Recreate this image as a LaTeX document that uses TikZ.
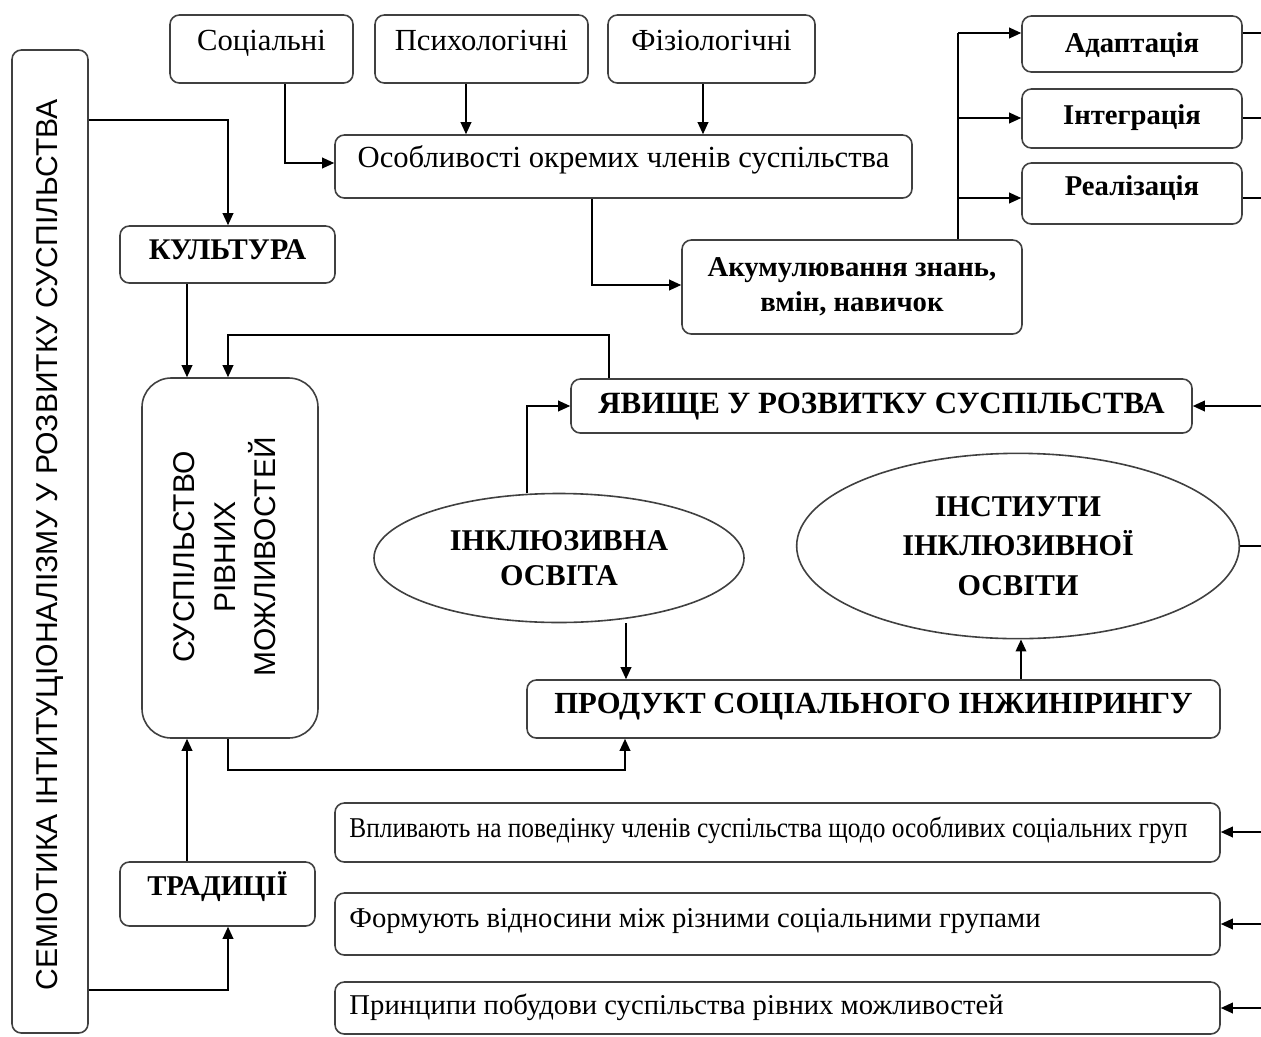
\documentclass[tikz,border=0pt]{standalone}
\usepackage{fontspec}
\usepackage{graphicx}
\setmainfont{Liberation Serif}
\setsansfont{Liberation Sans}
\usetikzlibrary{shapes.geometric,arrows.meta,backgrounds}
% box from (x1,y1) to (x2,y2) in pixels, with its text node shifted by dy
\newcommand{\mybox}[8]{%
  \pgfmathsetmacro\bw{(#5-#3)*0.75}\pgfmathsetmacro\bh{(#6-#4)*0.75}%
  \node[rbox, minimum width=\bw pt, minimum height=\bh pt] (#2) at ({(#3+#5)/2},{(#4+#6)/2}) {};
  \node[txt, #1, yshift=#7] (#2t) at (#2.center) {#8};}
\begin{document}
\begin{tikzpicture}[x=0.75pt,y=-0.75pt,
  rbox/.style={draw=black!75, line width=1.2pt, rounded corners=7pt, fill=white, inner sep=0pt},
  txt/.style={inner sep=0pt, align=center},
  one/.style={text height=15.5pt, text depth=5pt},
  reg/.style={one, font=\fontsize{23pt}{27pt}\selectfont},
  bld/.style={one, font=\fontsize{22.5pt}{27pt}\selectfont\bfseries},
  bsm/.style={one, font=\fontsize{21.5pt}{26pt}\selectfont\bfseries},
  small/.style={one, font=\fontsize{21.5pt}{25pt}\selectfont},
  ell/.style={ellipse, draw=black!75, line width=1.2pt, fill=white, inner sep=0pt, align=center},
  vtext/.style={rotate=90, inner sep=0pt, align=center},
  arr/.style={draw=black, line width=1.1pt, -{Triangle[length=9pt,width=8pt]}},
  ln/.style={draw=black, line width=1.1pt},
]
\useasboundingbox (0,0) rectangle (1261,1036);

% left tall box
\node[rbox, minimum width=57pt, minimum height=737.25pt] (sem) at (50,541.5) {};
\node[vtext, font=\sffamily\fontsize{22.6pt}{27pt}\selectfont] (semt) at (50,545) {СЕМІОТИКА ІНТИТУЦІОНАЛІЗМУ У РОЗВИТКУ СУСПІЛЬСТВА};

% top row
\mybox{reg}{soc}{170}{15}{353}{83}{4.5pt}{Соціальні}
\mybox{reg}{psy}{375}{15}{588}{83}{4.5pt}{Психологічні}
\mybox{reg}{fiz}{608}{15}{815}{83}{4.5pt}{Фізіологічні}
\mybox{reg}{osob}{335}{135}{912}{198}{4.5pt}{Особливості окремих членів суспільства}

\mybox{bld}{cult}{120}{226}{335}{283}{1.5pt}{КУЛЬТУРА}
\mybox{font=\fontsize{21.5pt}{26pt}\selectfont\bfseries}{akum}{682}{240}{1022}{334}{0pt}{Акумулювання знань,\\вмін, навичок}

\mybox{bsm}{adapt}{1022}{16}{1242}{72}{-1pt}{Адаптація}
\mybox{bsm}{integ}{1022}{89}{1242}{148}{1pt}{Інтеграція}
\mybox{bsm}{real}{1022}{163}{1242}{224}{3.5pt}{Реалізація}

% society box
\node[rbox, rounded corners=22pt, minimum width=132pt, minimum height=270pt] (sus) at (230,558) {};
\node[vtext, font=\sffamily\fontsize{22.5pt}{30.5pt}\selectfont] (sust) at (225,557) {СУСПІЛЬСТВО\\РІВНИХ\\МОЖЛИВОСТЕЙ};

\mybox{one, font=\fontsize{23.2pt}{27pt}\selectfont\bfseries}{yav}{571}{379}{1192}{433}{-0.5pt}{ЯВИЩЕ У РОЗВИТКУ СУСПІЛЬСТВА}

\node[ell, minimum width=277.5pt, minimum height=96.75pt, font=\fontsize{22.6pt}{26pt}\selectfont\bfseries] (ink) at (559,558) {ІНКЛЮЗИВНА\\ОСВІТА};
\node[ell, minimum width=332pt, minimum height=139pt, font=\fontsize{22.6pt}{29.5pt}\selectfont\bfseries] (inst) at (1018,546) {ІНСТИУТИ\\ІНКЛЮЗИВНОЇ\\ОСВІТИ};

\mybox{one, font=\fontsize{23pt}{27pt}\selectfont\bfseries}{prod}{527}{680}{1220}{738}{2pt}{ПРОДУКТ СОЦІАЛЬНОГО ІНЖИНІРИНГУ}

\mybox{bsm}{trad}{120}{862}{315}{926}{4.5pt}{ТРАДИЦІЇ}

% bottom boxes (left-aligned text)
\node[rbox, minimum width=663.75pt, minimum height=44.25pt] (b1) at (777.5,832.5) {};
\node[txt, small, anchor=west, xshift=11.25pt, yshift=1.5pt] (b1t) at (b1.west) {\scalebox{0.885}[1]{Впливають на поведінку членів суспільства щодо особливих соціальних груп}};
\node[rbox, minimum width=663.75pt, minimum height=46.5pt] (b2) at (777.5,924) {};
\node[txt, small, anchor=west, xshift=11.25pt, yshift=3pt] (b2t) at (b2.west) {Формують відносини між різними соціальними групами};
\node[rbox, minimum width=663.75pt, minimum height=39pt] (b3) at (777.5,1008) {};
\node[txt, small, anchor=west, xshift=11.25pt, yshift=0.75pt] (b3t) at (b3.west) {Принципи побудови суспільства рівних можливостей};

% free ends at the right border
\coordinate (eA) at (1261,33);
\coordinate (eI) at (1261,118);
\coordinate (eR) at (1261,198);
\coordinate (eY) at (1261,406);
\coordinate (eT) at (1261,546);
\coordinate (e1) at (1261,832);
\coordinate (e2) at (1261,924);
\coordinate (e3) at (1261,1008);

\begin{pgfonlayer}{background}
\draw[arr] (sem.east |- 0,120) -| (cult.north -| 228,0);
\draw[arr] (cult.south -| 187,0) -- (sus.north -| 187,0);
\draw[arr] (yav.north -| 609,0) |- (228,335) -- (sus.north -| 228,0);
\draw[arr] (sus.south -| 228,0) |- (625,770) -- (prod.south -| 625,0);
\draw[arr] (trad.north -| 187,0) -- (sus.south -| 187,0);
\draw[arr] (sem.east |- 0,990) -| (trad.south -| 228,0);

\draw[arr] (soc.south -| 285,0) |- (osob.west |- 0,163);
\draw[arr] (psy.south -| 466,0) -- (osob.north -| 466,0);
\draw[arr] (fiz.south -| 703,0) -- (osob.north -| 703,0);
\draw[arr] (osob.south -| 592,0) |- (akum.west |- 0,285);

\draw[ln] (akum.north -| 958,0) -- (958,33);
\draw[arr] (958,33) -- (adapt.west |- 0,33);
\draw[arr] (958,118) -- (integ.west |- 0,118);
\draw[arr] (958,198) -- (real.west |- 0,198);
\draw[ln] (adapt.east |- eA) -- (eA);
\draw[ln] (integ.east |- eI) -- (eI);
\draw[ln] (real.east |- eR) -- (eR);

\draw[arr] (eY) -- (yav.east |- eY);
\draw[arr] (ink.north -| 527,0) |- (yav.west |- eY);
\draw[arr] (ink.south -| 626,0) -- (prod.north -| 626,0);
\draw[arr] (prod.north -| 1021,0) -- (inst.south -| 1021,0);
\draw[ln] (inst.east) -- (inst.east -| eT);

\draw[arr] (e1) -- (b1.east |- e1);
\draw[arr] (e2) -- (b2.east |- e2);
\draw[arr] (e3) -- (b3.east |- e3);
\end{pgfonlayer}
\end{tikzpicture}
\end{document}
